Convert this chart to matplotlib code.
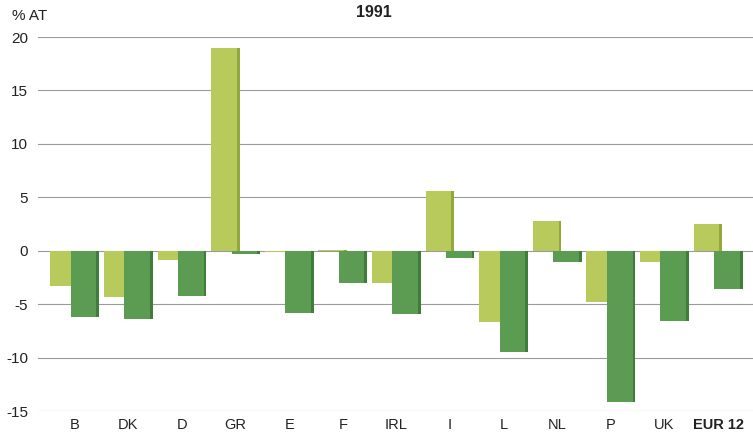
import numpy as np
import matplotlib
matplotlib.use("Agg")
import matplotlib.pyplot as plt

plt.rcParams['font.family'] = ['Liberation Sans', 'DejaVu Sans']

countries = ['B', 'DK', 'D', 'GR', 'E', 'F', 'IRL', 'I', 'L', 'NL', 'P', 'UK', 'EUR 12']
series_a = [-3.3, -4.3, -0.85, 19.0, -0.1, 0.1, -3.0, 5.6, -6.7, 2.8, -4.8, -1.1, 2.5]
series_b = [-6.2, -6.4, -4.2, -0.3, -5.8, -3.0, -5.9, -0.65, -9.5, -1.1, -14.2, -6.6, -3.6]
yticks = [-15, -10, -5, 0, 5, 10, 15, 20]

light = '#b9ca5c'
light_edge = '#93a83c'
dark = '#5c9c52'
dark_edge = '#3f7d3a'

fig = plt.figure(figsize=(7.53, 4.33), dpi=100)
ax = fig.add_axes([0.05, 0.0508, 0.95, 0.8637])

x = np.arange(len(countries))
w = 0.53
off = 0.19
side = 0.05

for y in yticks:
    ax.axhline(y, color='#9a9a9a', lw=0.8, zorder=0)

ax.bar(x - off, series_a, width=w, color=light, zorder=2)
ax.bar(x - off + w / 2 - side / 2, series_a, width=side, color=light_edge, zorder=2)
ax.bar(x + off, series_b, width=w, color=dark, zorder=3)
ax.bar(x + off + w / 2 - side / 2, series_b, width=side, color=dark_edge, zorder=3)

ax.set_xlim(-0.69, 12.65)
ax.set_ylim(-15, 20)
ax.set_yticks(yticks)
ax.set_yticklabels([str(t) for t in yticks], fontsize=11, color='#222222')
ax.set_xticks(x)
ax.set_xticklabels(countries, fontsize=10.5, color='#222222')
ax.get_xticklabels()[-1].set_fontweight('bold')
ax.tick_params(length=0, pad=7)
ax.tick_params(axis='x', pad=5)
for s in ax.spines.values():
    s.set_visible(False)

fig.text(0.016, 0.962, '% AT', fontsize=11, color='#222222', va='center')
fig.text(0.497, 0.970, '1991', fontsize=11.5, fontweight='bold', color='#222222', ha='center', va='center')

fig.savefig('out.png', dpi=100)
